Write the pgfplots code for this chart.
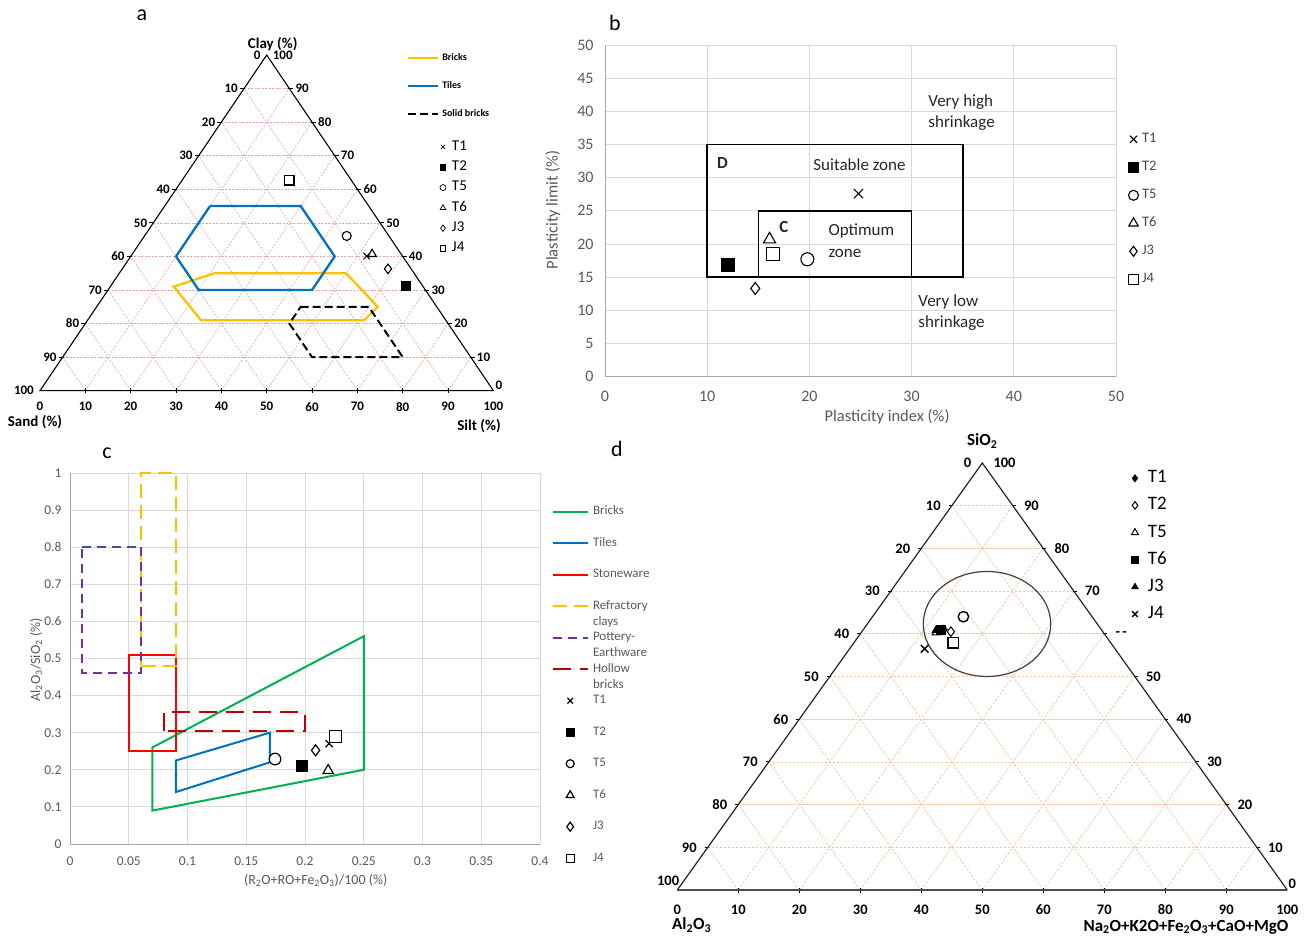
\documentclass[border=0pt]{standalone}
\usepackage{pgfplots}
\pgfplotsset{compat=1.18}
\usepackage{fontspec}
\setmainfont{Carlito}
\definecolor{bricksY}{HTML}{FFC000}
\definecolor{tilesB}{HTML}{0070C0}
\definecolor{brickG}{HTML}{00B050}
\definecolor{stoneR}{HTML}{FF0000}
\definecolor{purp}{HTML}{7030A0}
\definecolor{hollowR}{HTML}{C00000}
\definecolor{potB}{HTML}{3C4FA0}
\definecolor{gridA}{HTML}{E6A3A3}
\definecolor{gridD}{HTML}{F7C3A0}
\definecolor{txtgray}{HTML}{595959}
\definecolor{gridgray}{HTML}{D9D9D9}
\newcommand{\fs}[1]{\fontsize{#1}{#1}\selectfont}
\tikzset{
  gA/.style={gridA,line width=0.6pt,dash pattern=on 2pt off 1.5pt},
  gD/.style={gridD,line width=0.7pt,dash pattern=on 2.5pt off 1.5pt},
  tk/.style={black,line width=0.8pt},
  tlA/.style={font=\fs{13}\bfseries,inner sep=0pt},
  tlD/.style={font=\fs{14.5}\bfseries,inner sep=0pt},
}
\pgfplotsset{
  /pgf/number format/assume math mode=true,
  lineleg/.style={legend image code/.code={\draw[##1] (0pt,0pt) -- (#1,0pt);}},
  markleg/.style 2 args={legend image code/.code={\path[draw=none,fill=none] (-#1,0pt) -- (#1,0pt); \draw[##1,mark size=#2] plot coordinates {(0pt,0pt)};}},
  markC/.style={legend image code/.code={\path[draw=none,fill=none] (0pt,0pt) -- (35pt,0pt); \draw[##1,mark size=#1] plot coordinates {(17.5pt,0pt)};}},
}
\begin{document}
\begin{tikzpicture}
\path[use as bounding box] (0pt,0pt) rectangle (1311pt,936pt);
\node[font=\fs{22}] at (142pt,921pt) {a};
\node[font=\fs{22}] at (615pt,913pt) {b};
\node[font=\fs{22}] at (107pt,483pt) {c};
\node[font=\fs{22}] at (617pt,487pt) {d};

%================ panel a ================
\begin{axis}[at={(40pt,545.3pt)},anchor=south west,scale only axis,width=453.4pt,height=335.7pt,
  xmin=0,xmax=100,ymin=0,ymax=100,axis lines=none,clip=false,
  legend style={at={(axis description cs:0.8094,1.0036)},anchor=north west,draw=none,fill=none,
    inner sep=0pt,outer sep=0pt,font=\fs{10}\bfseries,row sep=19pt,column sep=3pt,
    nodes={inner sep=0pt,text height=7pt,text depth=2pt}},
  legend cell align=left]
\foreach \k in {10,20,...,90} {
  \pgfmathsetmacro\xl{\k/2}\pgfmathsetmacro\xr{100-\k/2}
  \pgfmathsetmacro\xt{50+\k/2}\pgfmathsetmacro\xs{50-\k/2}
  \pgfmathtruncatemacro\xb{100-\k}
  \edef\temp{\noexpand\draw[gA] (axis cs:\xl,\k) -- (axis cs:\xr,\k);
    \noexpand\draw[gA] (axis cs:\k,0) -- (axis cs:\xt,\xb);
    \noexpand\draw[gA] (axis cs:\xb,0) -- (axis cs:\xs,\xb);
    \noexpand\draw[tk] (axis cs:\xl,\k) ++(-4pt,0pt) -- ++(5pt,0pt);
    \noexpand\draw[tk] (axis cs:\xr,\k) ++(-1pt,0pt) -- ++(5pt,0pt);
    \noexpand\draw[tk] (axis cs:\k,0) ++(0pt,-2.5pt) -- ++(0pt,5pt);
    \noexpand\node[tlA,anchor=east,xshift=-6pt] at (axis cs:\xl,\k) {\xb};
    \noexpand\node[tlA,anchor=west,xshift=6pt] at (axis cs:\xr,\k) {\k};
    \noexpand\node[tlA,yshift=-16pt] at (axis cs:\k,0) {\k};}
  \temp
}
\node[tlA,anchor=east,xshift=-6pt] at (axis cs:50,100) {0};
\node[tlA,anchor=west,xshift=6pt] at (axis cs:50,100) {100};
\node[tlA,anchor=east,xshift=-6pt] at (axis cs:0,0) {100};
\node[tlA,yshift=-16pt] at (axis cs:0,0) {0};
\node[tlA,yshift=-16pt] at (axis cs:100,0) {100};
\node[tlA,anchor=south west,xshift=2pt,yshift=1pt] at (axis cs:100,0) {0};
\draw[black,line width=1.1pt] (axis cs:0,0) -- (axis cs:50,100) -- (axis cs:100,0) -- cycle;
\node[font=\fs{15}\bfseries] at (axis cs:50,100) [yshift=11pt,xshift=6pt] {Clay (\%)};

\addplot[bricksY,line width=2.3pt,lineleg=30pt] table[x expr=\thisrow{T}+0.5*\thisrow{C},y expr=\thisrow{C}] {
S T C
44 21 35
15 50 35
13 62 25
18 61 21
54 25 21
55 14 31
44 21 35
};
\addlegendentry{Bricks}
\addplot[tilesB,line width=2.3pt,lineleg=30pt] table[x expr=\thisrow{T}+0.5*\thisrow{C},y expr=\thisrow{C}] {
S T C
35 10 55
15 30 55
15 45 40
25 45 30
50 20 30
50 10 40
35 10 55
};
\addlegendentry{Tiles}
\addplot[black,line width=2pt,dash pattern=on 8pt off 4pt,lineleg=30pt] table[x expr=\thisrow{T}+0.5*\thisrow{C},y expr=\thisrow{C}] {
S T C
30 45 25
15 60 25
15 75 10
35 55 10
35 45 20
30 45 25
};
\addlegendentry{Solid bricks}
% points
\addplot[forget plot,only marks,mark=x,mark size=4.5pt,black,line width=1pt] table[x expr=\thisrow{T}+0.5*\thisrow{C},y expr=\thisrow{C}] {
S T C
7.9 52.0 40.1
};
\addplot[forget plot,only marks,mark=square*,mark size=4.8pt,black,fill=black] table[x expr=\thisrow{T}+0.5*\thisrow{C},y expr=\thisrow{C}] {
S T C
3.7 65.0 31.3
};
\addplot[forget plot,only marks,mark=*,mark size=4.5pt,black,line width=1.1pt,mark options={fill=white}] table[x expr=\thisrow{T}+0.5*\thisrow{C},y expr=\thisrow{C}] {
S T C
9.3 44.6 46.1
};
\addplot[forget plot,only marks,mark=triangle*,mark size=4.8pt,black,line width=1.1pt,mark options={fill=white}] table[x expr=\thisrow{T}+0.5*\thisrow{C},y expr=\thisrow{C}] {
S T C
6.4 52.9 40.7
};
\addplot[forget plot,only marks,mark=diamond*,mark size=4.8pt,black,line width=1.1pt,mark options={fill=white}] table[x expr=\thisrow{T}+0.5*\thisrow{C},y expr=\thisrow{C}] {
S T C
5.1 58.6 36.3
};
\addplot[forget plot,only marks,mark=square*,mark size=4.8pt,black,line width=1.2pt,mark options={fill=white}] table[x expr=\thisrow{T}+0.5*\thisrow{C},y expr=\thisrow{C}] {
S T C
13.7 23.6 62.7
};
\end{axis}
\node[font=\fs{15}\bfseries] at (35pt,514.3pt) {Sand (\%)};
\node[font=\fs{15}\bfseries] at (479pt,510pt) {Silt (\%)};

% marker legend for a
\begin{axis}[at={(40pt,545.3pt)},anchor=south west,scale only axis,width=453.4pt,height=335.7pt,
  xmin=0,xmax=100,ymin=0,ymax=100,axis lines=none,clip=false,
  legend style={at={(axis description cs:0.880,0.7462)},anchor=north west,draw=none,fill=none,
    inner sep=0pt,outer sep=0pt,font=\fs{15},row sep=6.8pt,column sep=5pt,
    nodes={inner sep=0pt,text height=10pt,text depth=3.5pt}},
  legend cell align=left]
\addplot[draw=none,forget plot] coordinates {(0,0)};
\addlegendimage{only marks,mark=x,black,line width=0.7pt,markleg={4pt}{3pt}}
\addlegendentry{T1}
\addlegendimage{only marks,mark=square*,black,fill=black,markleg={4pt}{2.7pt}}
\addlegendentry{T2}
\addlegendimage{only marks,mark=*,black,line width=0.7pt,mark options={fill=white},markleg={4pt}{3pt}}
\addlegendentry{T5}
\addlegendimage{only marks,mark=triangle*,black,line width=0.7pt,mark options={fill=white},markleg={4pt}{3.2pt}}
\addlegendentry{T6}
\addlegendimage{only marks,mark=diamond*,black,line width=0.7pt,mark options={fill=white},markleg={4pt}{3.2pt}}
\addlegendentry{J3}
\addlegendimage{only marks,mark=square*,black,line width=0.7pt,mark options={fill=white},markleg={4pt}{2.7pt}}
\addlegendentry{J4}
\end{axis}

%================ panel b ================
\begin{axis}[at={(605pt,559.3pt)},anchor=south west,scale only axis,width=511pt,height=331.7pt,
  xmin=0,xmax=50,ymin=0,ymax=50,xtick={0,10,20,30,40,50},ytick={0,5,10,15,20,25,30,35,40,45,50},
  grid=major,major grid style={gridgray,line width=0.9pt},
  axis x line*=bottom,axis y line*=left,axis line style={draw=black!35,line width=0.9pt,-},
  x axis line style={-},y axis line style={-},
  major tick length=0pt,clip=false,
  tick label style={font=\fs{16},text=txtgray},
  yticklabel style={xshift=-8pt},xticklabel style={yshift=-11pt},
  xlabel={Plasticity index (\%)},ylabel={Plasticity limit (\%)},
  label style={font=\fs{16.5},text=txtgray},
  xlabel style={at={(axis description cs:0.552,-0.1206)},anchor=center},
  ylabel style={at={(axis description cs:-0.1018,0.5026)},anchor=center},
  legend style={at={(axis description cs:1.0235,0.7353)},anchor=north west,draw=none,fill=none,
    inner sep=0pt,outer sep=0pt,font=\fs{14.5},text=txtgray!80!black,row sep=15pt,column sep=3pt,
    nodes={inner sep=0pt,text height=9.5pt,text depth=3.5pt}},
  legend cell align=left]
\addplot[forget plot,black,line width=1.6pt] coordinates {(10,15) (35,15) (35,35) (10,35)} -- cycle;
\addplot[forget plot,black,line width=1.6pt] coordinates {(15,15) (30,15) (30,25) (15,25)} -- cycle;
\addplot[only marks,mark=x,mark size=6.5pt,black,line width=1.1pt,markleg={5.5pt}{5pt}] coordinates {(24.8,27.6)};
\addlegendentry{T1}
\addplot[only marks,mark=square*,mark size=6.5pt,black,fill=black,markleg={5.5pt}{5pt}] coordinates {(12.0,16.9)};
\addlegendentry{T2}
\addplot[only marks,mark=*,mark size=6.5pt,black,line width=1.1pt,mark options={fill=white},markleg={5.5pt}{5pt}] coordinates {(19.8,17.7)};
\addlegendentry{T5}
\addplot[only marks,mark=triangle*,mark size=7pt,black,line width=1.1pt,mark options={fill=white},markleg={5.5pt}{5.5pt}] coordinates {(16.1,20.7)};
\addlegendentry{T6}
\addplot[only marks,mark=diamond*,mark size=6pt,black,line width=1.1pt,mark options={fill=white},markleg={5.5pt}{5pt}] coordinates {(14.7,13.3)};
\addlegendentry{J3}
\addplot[only marks,mark=square*,mark size=6.5pt,black,line width=1.1pt,mark options={fill=white},markleg={5.5pt}{5pt}] coordinates {(16.4,18.5)};
\addlegendentry{J4}
\node[font=\fs{17}\bfseries,text=black!85] at (axis cs:11.5,32.2) {D};
\node[font=\fs{17},text=black!85] at (axis cs:24.9,31.9) {Suitable zone};
\node[font=\fs{17}\bfseries,text=black!85] at (axis cs:17.5,22.6) {C};
\node[font=\fs{17},text=black!85,anchor=west,inner sep=0pt] at (axis cs:21.85,21.9) {Optimum};
\node[font=\fs{17},text=black!85,anchor=west,inner sep=0pt] at (axis cs:21.85,18.6) {zone};
\node[font=\fs{17},text=black!85,anchor=west,inner sep=0pt] at (axis cs:31.63,41.46) {Very high};
\node[font=\fs{17},text=black!85,anchor=west,inner sep=0pt] at (axis cs:31.63,38.19) {shrinkage};
\node[font=\fs{17},text=black!85,anchor=west,inner sep=0pt] at (axis cs:30.65,11.3) {Very low};
\node[font=\fs{17},text=black!85,anchor=west,inner sep=0pt] at (axis cs:30.65,8.14) {shrinkage};
\end{axis}

%================ panel c ================
\begin{axis}[at={(70pt,92pt)},anchor=south west,scale only axis,width=470pt,height=371pt,
  xmin=0,xmax=0.4,ymin=0,ymax=1,
  xtick={0,0.05,0.1,0.15,0.2,0.25,0.3,0.35,0.4},xticklabels={0,0.05,0.1,0.15,0.2,0.25,0.3,0.35,0.4},
  ytick={0,0.1,0.2,0.3,0.4,0.5,0.6,0.7,0.8,0.9,1},yticklabels={0,0.1,0.2,0.3,0.4,0.5,0.6,0.7,0.8,0.9,1},
  grid=major,major grid style={gridgray,line width=0.9pt},
  axis x line*=bottom,axis y line*=left,axis line style={draw=black!35,line width=0.9pt,-},
  x axis line style={-},y axis line style={-},
  major tick length=0pt,clip=false,
  tick label style={font=\fs{13.5},text=txtgray},
  yticklabel style={xshift=-5pt},xticklabel style={yshift=-9.5pt},
  xlabel={(R\textsubscript{2}O+RO+Fe\textsubscript{2}O\textsubscript{3})/100 (\%)},
  ylabel={Al\textsubscript{2}O\textsubscript{3}/SiO\textsubscript{2} (\%)},
  label style={font=\fs{14},text=txtgray},
  xlabel style={at={(axis description cs:0.5227,-0.098)},anchor=center},
  ylabel style={at={(axis description cs:-0.0723,0.496)},anchor=center},
  legend style={at={(axis description cs:1.0249,0.9125)},anchor=north west,draw=none,fill=none,
    inner sep=0pt,outer sep=0pt,font=\fontsize{13}{16}\selectfont,text=txtgray,row sep=19pt,column sep=4.3pt,
    nodes={inner sep=0pt,text height=9.5pt,text depth=3pt}},
  legend cell align=left]
\addplot[brickG,line width=2pt,lineleg=35pt] coordinates {(0.07,0.26) (0.25,0.56) (0.25,0.20) (0.07,0.09)} -- cycle;
\addlegendentry{Bricks}
\addplot[tilesB,line width=2pt,lineleg=35pt] coordinates {(0.09,0.225) (0.17,0.30) (0.17,0.22) (0.09,0.14)} -- cycle;
\addlegendentry{Tiles}
\addplot[stoneR,line width=2pt,lineleg=35pt] coordinates {(0.05,0.25) (0.05,0.51) (0.09,0.51) (0.09,0.25)} -- cycle;
\addlegendentry{Stoneware}
\addplot[bricksY,line width=2pt,dash pattern=on 14pt off 7pt,lineleg=35pt] coordinates {(0.06,0.48) (0.06,1.0) (0.09,1.0) (0.09,0.48)} -- cycle;
\addlegendentry{\begin{tabular}[t]{@{}l@{}}Refractory\\clays\end{tabular}}
\addplot[purp,line width=2pt,dash pattern=on 9pt off 6pt,lineleg=35pt] coordinates {(0.06,0.80) (0.06,0.46) (0.01,0.46) (0.01,0.80)};
\addlegendentry{\begin{tabular}[t]{@{}l@{}}Pottery-\\Earthware\end{tabular}}
\addplot[hollowR,line width=2pt,dash pattern=on 18pt off 9pt,lineleg=35pt] coordinates {(0.08,0.305) (0.08,0.355) (0.20,0.355) (0.20,0.305)} -- cycle;
\addlegendentry{\begin{tabular}[t]{@{}l@{}}Hollow\\bricks\end{tabular}}
\addplot[forget plot,potB,line width=2pt,dash pattern=on 9pt off 6pt] coordinates {(0.01,0.80) (0.06,0.80)};
\addplot[only marks,mark=x,mark size=5pt,black,line width=1.2pt,markC=4pt] coordinates {(0.2206,0.2705)};
\addlegendentry{T1}
\addplot[only marks,mark=square*,mark size=5.5pt,black,fill=black,markC=4pt] coordinates {(0.1976,0.211)};
\addlegendentry{T2}
\addplot[only marks,mark=*,mark size=5.8pt,black,line width=1.2pt,mark options={fill=white},markC=4pt] coordinates {(0.1745,0.229)};
\addlegendentry{T5}
\addplot[only marks,mark=triangle*,mark size=6pt,black,line width=1.2pt,mark options={fill=white},markC=4.5pt] coordinates {(0.2197,0.198)};
\addlegendentry{T6}
\addplot[only marks,mark=diamond*,mark size=5.5pt,black,line width=1.2pt,mark options={fill=white},markC=4.5pt] coordinates {(0.209,0.2525)};
\addlegendentry{J3}
\addplot[only marks,mark=square*,mark size=5.8pt,black,line width=1.2pt,mark options={fill=white},markC=4pt] coordinates {(0.2258,0.290)};
\addlegendentry{J4}
\end{axis}

%================ panel d ================
\begin{axis}[at={(677.3pt,46pt)},anchor=south west,scale only axis,width=610pt,height=427pt,
  xmin=0,xmax=100,ymin=0,ymax=100,axis lines=none,clip=false,
  legend style={at={(axis description cs:0.7421,0.9841)},anchor=north west,draw=none,fill=none,
    inner sep=0pt,outer sep=0pt,font=\fs{19},row sep=10.15pt,column sep=8pt,
    nodes={inner sep=0pt,text height=13pt,text depth=4pt}},
  legend cell align=left]
\foreach \k in {10,20,...,90} {
  \pgfmathsetmacro\xl{\k/2}\pgfmathsetmacro\xr{100-\k/2}
  \pgfmathsetmacro\xt{50+\k/2}\pgfmathsetmacro\xs{50-\k/2}
  \pgfmathtruncatemacro\xb{100-\k}
  \edef\temp{\noexpand\draw[gD] (axis cs:\xl,\k) -- (axis cs:\xr,\k);
    \noexpand\draw[gD] (axis cs:\k,0) -- (axis cs:\xt,\xb);
    \noexpand\draw[gD] (axis cs:\xb,0) -- (axis cs:\xs,\xb);
    \noexpand\draw[tk] (axis cs:\xl,\k) ++(-3pt,0pt) -- ++(4pt,0pt);
    \noexpand\draw[tk] (axis cs:\xr,\k) ++(-1pt,0pt) -- ++(4pt,0pt);
    \noexpand\draw[tk] (axis cs:\k,0) ++(0pt,-3pt) -- ++(0pt,5pt);
    \noexpand\node[tlD,anchor=east,xshift=-11pt] at (axis cs:\xl,\k) {\xb};
    \noexpand\node[tlD,yshift=-20pt] at (axis cs:\k,0) {\k};}
  \temp
}
\foreach \k in {10,20,30,40,50,70,80,90} {
  \pgfmathsetmacro\xr{100-\k/2}
  \edef\temp{\noexpand\node[tlD,anchor=west,xshift=11pt] at (axis cs:\xr,\k) {\k};}
  \temp
}
\node[tlD,anchor=west,xshift=11pt] at (axis cs:70,60) {-\,-};
\node[tlD,anchor=east,xshift=-11pt] at (axis cs:50,100) {0};
\node[tlD,anchor=west,xshift=11pt] at (axis cs:50,100) {100};
\node[tlD,anchor=east,xshift=2pt,yshift=9pt] at (axis cs:0,0) {100};
\node[tlD,yshift=-20pt] at (axis cs:0,0) {0};
\node[tlD,yshift=-20pt] at (axis cs:100,0) {100};
\node[tlD,anchor=south west,xshift=1pt,yshift=1pt] at (axis cs:100,0) {0};
\draw[black!85,line width=1.2pt] (axis cs:0,0) -- (axis cs:50,100) -- (axis cs:100,0);
\draw[black!70,line width=1.6pt] (axis cs:0,0) -- (axis cs:100,0);
\draw[black!75,line width=1.2pt] (axis cs:50.77,62.3) ellipse [x radius=63.7pt,y radius=52.5pt];
\node[font=\fs{17}\bfseries] at (axis cs:50,100) [yshift=22pt] {SiO\textsubscript{2}};

\addplot[only marks,mark=diamond*,mark size=4.8pt,black,fill=black,markleg={5pt}{3.8pt}] table[x expr=\thisrow{F}+0.5*\thisrow{S},y expr=\thisrow{S}] {
F S
13.2 61.0
};
\addlegendentry{T1}
\addplot[only marks,mark=diamond*,mark size=4.8pt,black,line width=1pt,mark options={fill=white},markleg={5pt}{3.8pt}] table[x expr=\thisrow{F}+0.5*\thisrow{S},y expr=\thisrow{S}] {
F S
14.6 60.5
};
\addlegendentry{T2}
\addplot[only marks,mark=triangle*,mark size=4.8pt,black,line width=1pt,mark options={fill=white},markleg={5pt}{4pt}] table[x expr=\thisrow{F}+0.5*\thisrow{S},y expr=\thisrow{S}] {
F S
12.3 60.3
};
\addlegendentry{T5}
\addplot[only marks,mark=square*,mark size=4.5pt,black,fill=black,markleg={5pt}{3.4pt}] table[x expr=\thisrow{F}+0.5*\thisrow{S},y expr=\thisrow{S}] {
F S
12.6 61.0
};
\addlegendentry{T6}
\addplot[only marks,mark=triangle*,mark size=4.8pt,black,fill=black,markleg={5pt}{4pt}] table[x expr=\thisrow{F}+0.5*\thisrow{S},y expr=\thisrow{S}] {
F S
12.0 60.8
};
\addlegendentry{J3}
\addplot[only marks,mark=x,mark size=5.5pt,black,line width=1.4pt,markleg={5pt}{4pt}] table[x expr=\thisrow{F}+0.5*\thisrow{S},y expr=\thisrow{S}] {
F S
12.3 56.5
};
\addlegendentry{J4}
\addplot[forget plot,only marks,mark=*,mark size=5.2pt,black,line width=1.4pt,mark options={fill=white}] table[x expr=\thisrow{F}+0.5*\thisrow{S},y expr=\thisrow{S}] {
F S
14.9 64.0
};
\addplot[forget plot,only marks,mark=square*,mark size=5.2pt,black,line width=1.4pt,mark options={fill=white}] table[x expr=\thisrow{F}+0.5*\thisrow{S},y expr=\thisrow{S}] {
F S
16.3 57.9
};
\end{axis}
\node[font=\fs{17}\bfseries] at (691.7pt,11pt) {Al\textsubscript{2}O\textsubscript{3}};
\node[font=\fs{17}\bfseries,anchor=east] at (1292pt,9pt) {Na\textsubscript{2}O+K2O+Fe\textsubscript{2}O\textsubscript{3}+CaO+MgO};
\end{tikzpicture}
\end{document}
